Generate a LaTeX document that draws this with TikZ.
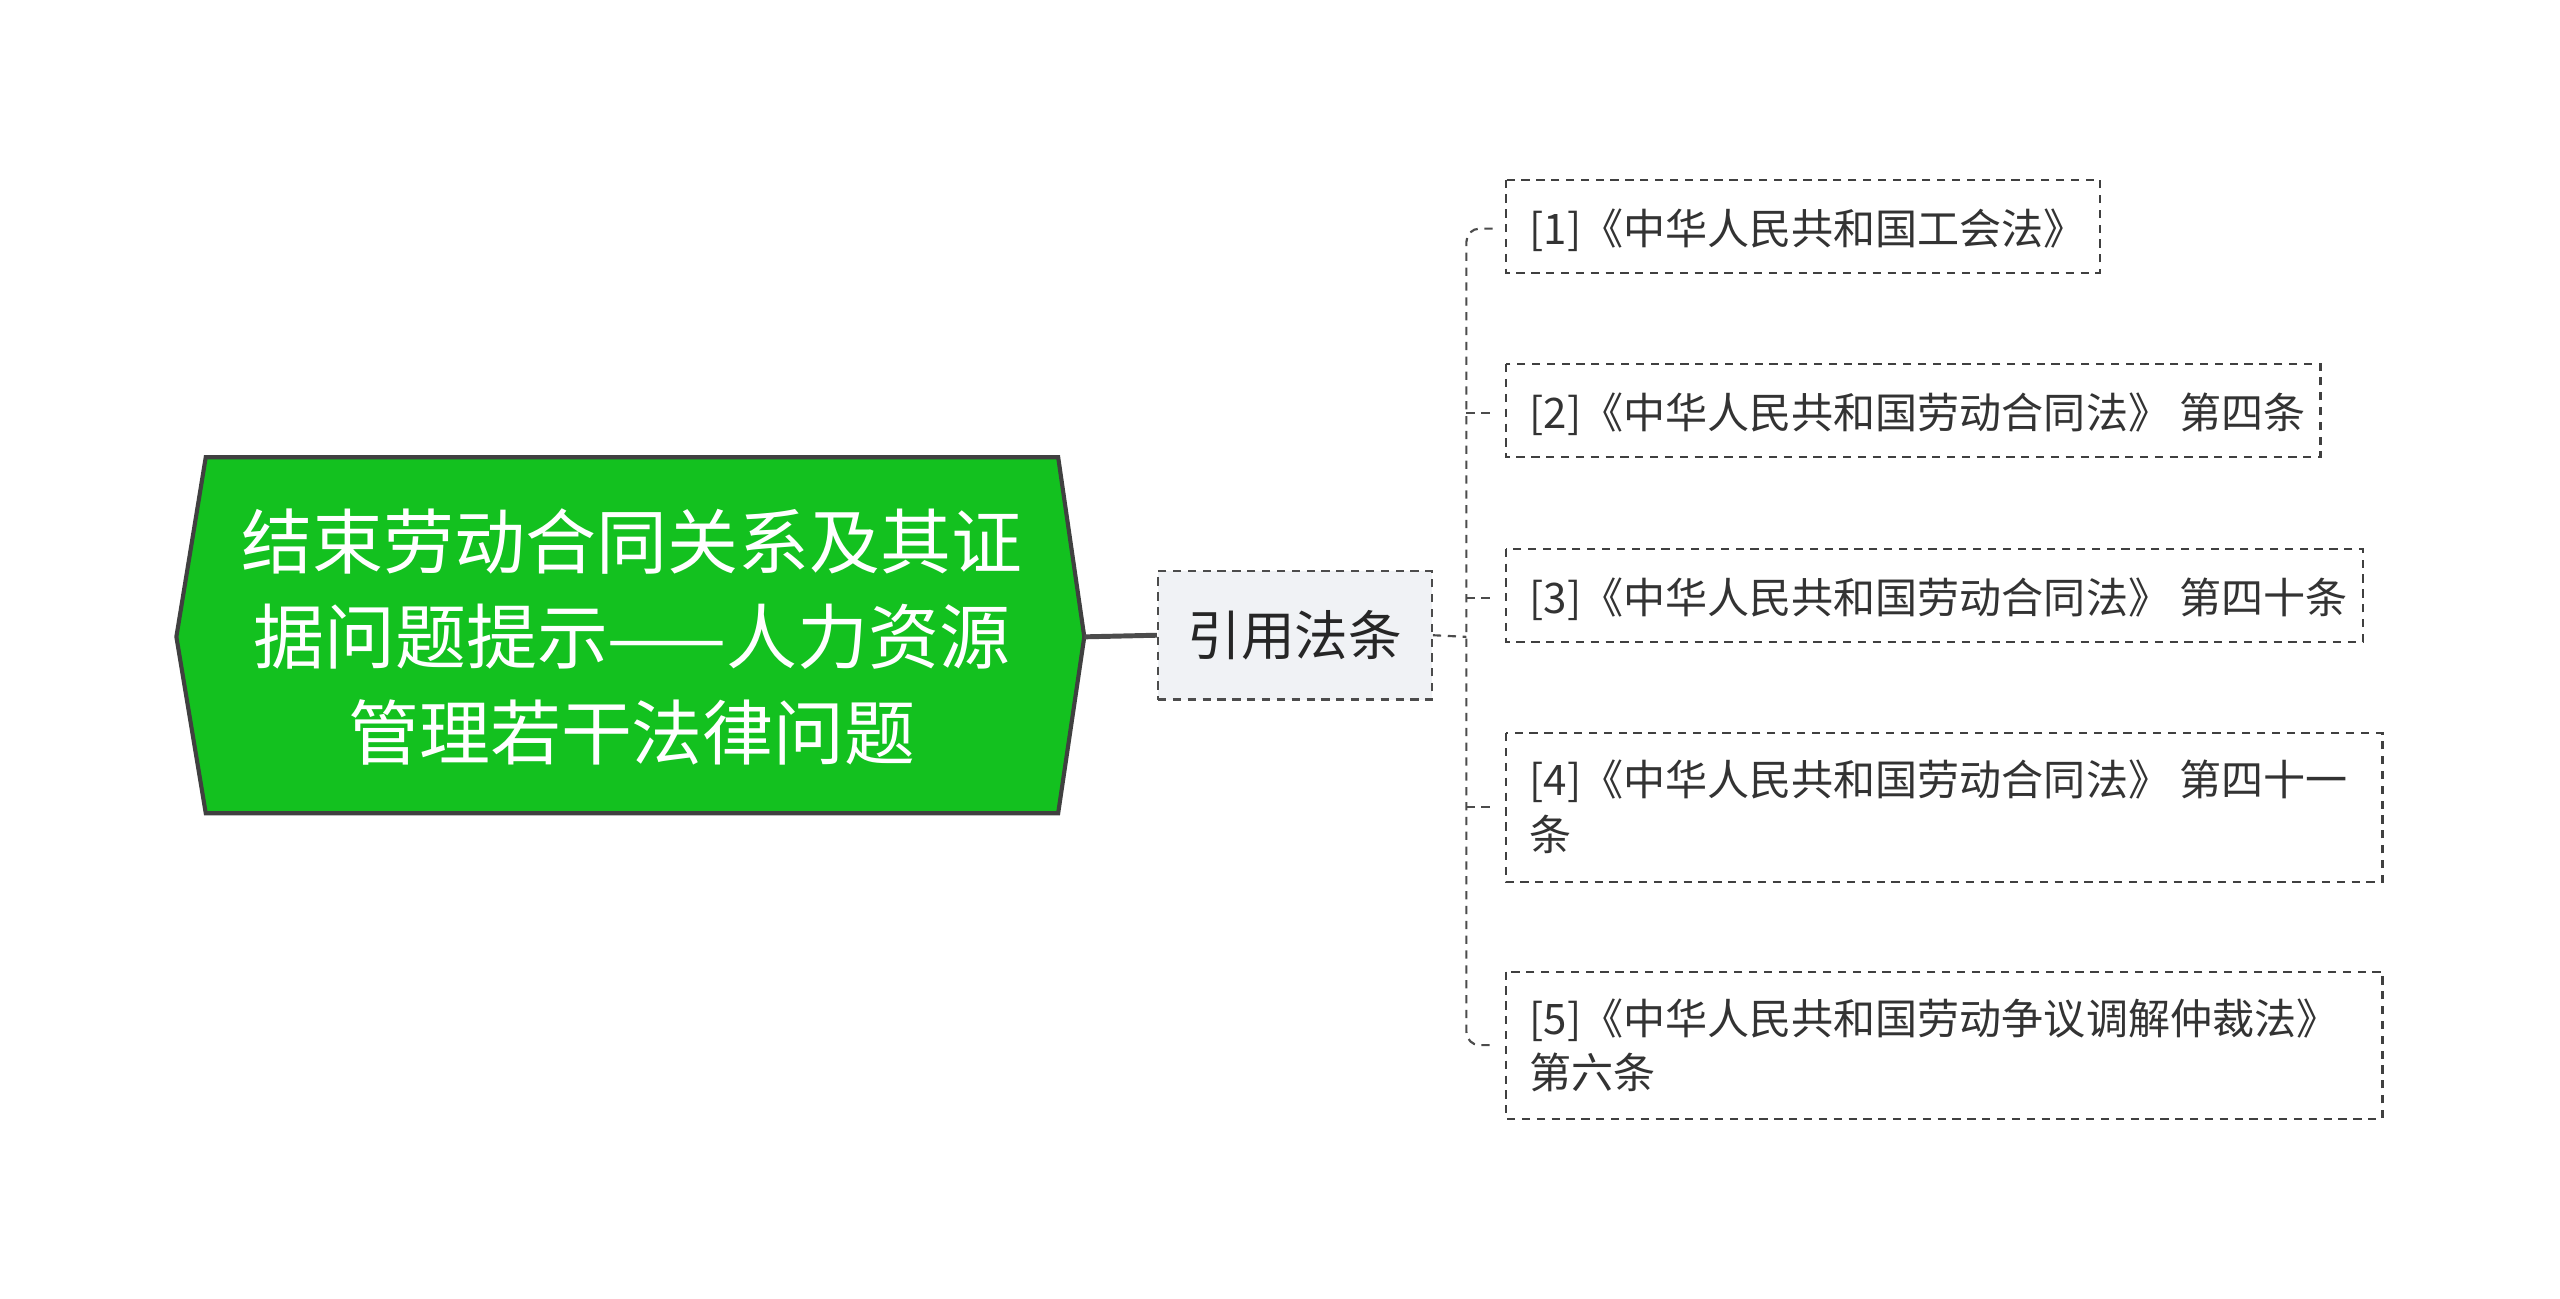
\documentclass[tikz,border=0pt]{standalone}
\usepackage{fontspec}
\setmainfont{Noto Sans CJK SC}
\begin{document}
\begin{tikzpicture}[x=0.99pt,y=-0.99pt,
  leaf/.style={draw=black!75,dashed,line width=1.3pt,dash pattern=on 5pt off 4pt,anchor=north west,align=left,inner sep=0pt,font=\fontsize{25.5}{33}\selectfont,text=black!80},
  conn/.style={draw=black!70,line width=1.3pt,dash pattern=on 5pt off 4pt}]
\useasboundingbox (0,0) rectangle (1567.7,795);
\draw[fill=white,draw=white] (0,0) rectangle (1567.7,795);
% root
\draw[fill={rgb,255:red,19;green,193;blue,31},draw=black!75,line width=2.5pt]
 (108,390) -- (126,280) -- (648,280) -- (664,390) -- (648,498) -- (126,498) -- cycle;
\node[text=white,align=center,font=\fontsize{43}{58}\selectfont] (root) at (387,390)
 {结束劳动合同关系及其证\\据问题提示——人力资源\\管理若干法律问题};
\coordinate (rootr) at (664,390);
% child
\node[draw=black!70,fill={rgb,255:red,240;green,242;blue,245},line width=1.3pt,dash pattern=on 5pt off 4pt,
 minimum width=166pt,minimum height=78pt,font=\fontsize{32.5}{36}\selectfont,text=black!85] (ch) at (793,389) {引用法条};
\draw[black!70,line width=3pt] (rootr) -- (ch.west);
% leaves
\draw[leaf] (922,110) rectangle (1286,167);
\node[leaf,draw=none] (l1) at (936,127) {[1]《中华人民共和国工会法》};
\draw[leaf] (922,223) rectangle (1421,280);
\node[leaf,draw=none] (l2) at (936,240) {[2]《中华人民共和国劳动合同法》 第四条};
\draw[leaf] (922,336) rectangle (1447,393);
\node[leaf,draw=none] (l3) at (936,353) {[3]《中华人民共和国劳动合同法》 第四十条};
\draw[leaf] (922,449) rectangle (1459,540);
\node[leaf,draw=none] (l4) at (936,465) {[4]《中华人民共和国劳动合同法》 第四十一\\条};
\draw[leaf] (922,595) rectangle (1459,685);
\node[leaf,draw=none] (l5) at (936,611) {[5]《中华人民共和国劳动争议调解仲裁法》\\第六条};
\coordinate (t) at (898,390);
\draw[conn] (ch.east) -- (t);
\draw[conn] (914,140) -- (906,140) to[out=180,in=90] (898,148) -- (898,632) to[out=-90,in=180] (906,640) -- (914,640);
\draw[conn] (898,253) -- (914,253);
\draw[conn] (898,366) -- (914,366);
\draw[conn] (898,494) -- (914,494);
\end{tikzpicture}
\end{document}
